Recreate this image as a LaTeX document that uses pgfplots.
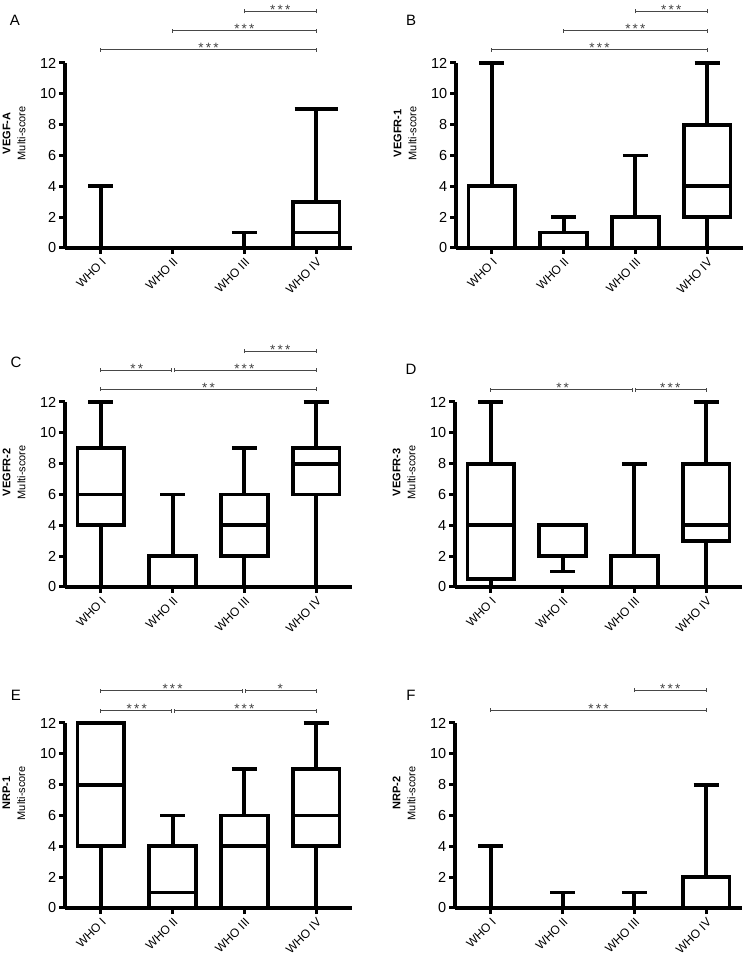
\documentclass[border=0pt]{standalone}
\usepackage{fontspec}
\setmainfont{Liberation Sans}
\usepackage{pgfplots}
\pgfplotsset{compat=1.18}
\usepgfplotslibrary{statistics}

\newcommand{\three}{*\hspace{2.2pt}*\hspace{2.2pt}*}
\newcommand{\two}{*\hspace{2.2pt}*}
\newcommand{\sig}[5]{%
  \draw[black!72, line width=1pt] (axis cs:#1,#4) -- (axis cs:#2,#4);
  \draw[black!72, line width=1pt] ([yshift=-2pt]axis cs:#1,#4) -- ([yshift=2pt]axis cs:#1,#4);
  \draw[black!72, line width=1pt] ([yshift=-2pt]axis cs:#2,#4) -- ([yshift=2pt]axis cs:#2,#4);
  \node[anchor=base, inner sep=0pt, text=black!75, font=\fontsize{13.5}{13.5}\selectfont] at ([yshift=-3pt]axis cs:#3,#4) {#5};
}
\newcommand{\bp}[6]{%
  \addplot[black, line width=3.8pt, boxplot prepared={draw position=#1, lower whisker=#2, lower quartile=#3, median=#4, upper quartile=#5, upper whisker=#6}] coordinates {};
}
\newcommand{\ylab}[1]{%
  \node[rotate=90, align=center, inner sep=0pt, font=\fontsize{11}{15}\selectfont] at ([xshift=-51pt]rel axis cs:0,0.62) {#1};
}

\pgfplotsset{
  panel/.style={
    scale only axis, width=287pt, height=185pt,
    xmin=0.5, xmax=4.5, ymin=0, ymax=12,
    axis x line*=bottom, axis y line*=left,
    axis line style={line width=3.8pt, -},
    xtick={1,2,3,4}, xticklabels={WHO I, WHO II, WHO III, WHO IV},
    ytick={0,2,...,12},
    tick align=outside, major tick length=6pt,
    tick style={line width=3pt, black},
    xticklabel style={rotate=45, anchor=north east, inner sep=2pt, font=\fontsize{12}{13}\selectfont},
    yticklabel style={font=\fontsize{14.5}{15}\selectfont, inner sep=2.5pt},
    /pgf/number format/assume math mode=true,
    clip=false,
    boxplot/draw direction=y,
    boxplot/box extend=0.65,
    boxplot/whisker extend=0.35,
  }
}

\begin{document}
\begin{tikzpicture}
\useasboundingbox (0,0) rectangle (745pt,960pt);

\node[font=\fontsize{15}{15}\selectfont] at (15pt,940pt) {A};
\node[font=\fontsize{15}{15}\selectfont] at (411pt,940pt) {B};
\node[font=\fontsize{15}{15}\selectfont] at (16pt,598pt) {C};
\node[font=\fontsize{15}{15}\selectfont] at (411pt,591pt) {D};
\node[font=\fontsize{15}{15}\selectfont] at (16pt,265pt) {E};
\node[font=\fontsize{15}{15}\selectfont] at (411pt,265pt) {F};

% A
\begin{axis}[panel, at={(65pt,712pt)}, anchor=south west]
\bp{1}{0}{0}{0}{0}{4}
\bp{2}{0}{0}{0}{0}{0}
\bp{3}{0}{0}{0}{0}{1}
\addplot[black, line width=3.8pt, boxplot prepared={draw position=4, lower whisker=0, lower quartile=0, median=1, upper quartile=3, upper whisker=9, whisker extend=0.6}] coordinates {};
\sig{3}{4}{3.5}{15.35}{\three}
\sig{2}{4}{3}{14.1}{\three}
\sig{1}{4}{2.5}{12.85}{\three}
\ylab{\textbf{VEGF-A}\\Multi-score}
\end{axis}

% B
\begin{axis}[panel, at={(456pt,712pt)}, anchor=south west]
\bp{1}{0}{0}{0}{4}{12}
\bp{2}{0}{0}{0}{1}{2}
\bp{3}{0}{0}{0}{2}{6}
\bp{4}{0}{2}{4}{8}{12}
\sig{3}{4}{3.5}{15.35}{\three}
\sig{2}{4}{3}{14.1}{\three}
\sig{1}{4}{2.5}{12.85}{\three}
\ylab{\textbf{VEGFR-1}\\Multi-score}
\end{axis}

% C
\begin{axis}[panel, at={(65pt,373pt)}, anchor=south west]
\bp{1}{0}{4}{6}{9}{12}
\bp{2}{0}{0}{0}{2}{6}
\bp{3}{0}{2}{4}{6}{9}
\bp{4}{0}{6}{8}{9}{12}
\sig{3}{4}{3.5}{15.3}{\three}
\sig{1}{1.98}{1.5}{14.07}{\two}
\sig{2.02}{4}{3}{14.07}{\three}
\sig{1}{4}{2.5}{12.84}{\two}
\ylab{\textbf{VEGFR-2}\\Multi-score}
\end{axis}

% D
\begin{axis}[panel, at={(455pt,373pt)}, anchor=south west]
\bp{1}{0}{0.5}{4}{8}{12}
\bp{2}{1}{2}{2}{4}{4}
\bp{3}{0}{0}{0}{2}{8}
\bp{4}{0}{3}{4}{8}{12}
\sig{1}{2.98}{2}{12.78}{\two}
\sig{3.02}{4}{3.5}{12.78}{\three}
\ylab{\textbf{VEGFR-3}\\Multi-score}
\end{axis}

% E
\begin{axis}[panel, at={(65pt,52pt)}, anchor=south west]
\bp{1}{0}{4}{8}{12}{12}
\bp{2}{0}{0}{1}{4}{6}
\bp{3}{0}{0}{4}{6}{9}
\bp{4}{0}{4}{6}{9}{12}
\sig{1}{2.98}{2}{14.08}{\three}
\sig{3.02}{4}{3.5}{14.08}{*}
\sig{1}{1.98}{1.5}{12.78}{\three}
\sig{2.02}{4}{3}{12.78}{\three}
\ylab{\textbf{NRP-1}\\Multi-score}
\end{axis}

% F
\begin{axis}[panel, at={(455pt,52pt)}, anchor=south west]
\bp{1}{0}{0}{0}{0}{4}
\bp{2}{0}{0}{0}{0}{1}
\bp{3}{0}{0}{0}{0}{1}
\bp{4}{0}{0}{0}{2}{8}
\sig{3}{4}{3.5}{14.14}{\three}
\sig{1}{4}{2.5}{12.84}{\three}
\ylab{\textbf{NRP-2}\\Multi-score}
\end{axis}
\end{tikzpicture}
\end{document}
